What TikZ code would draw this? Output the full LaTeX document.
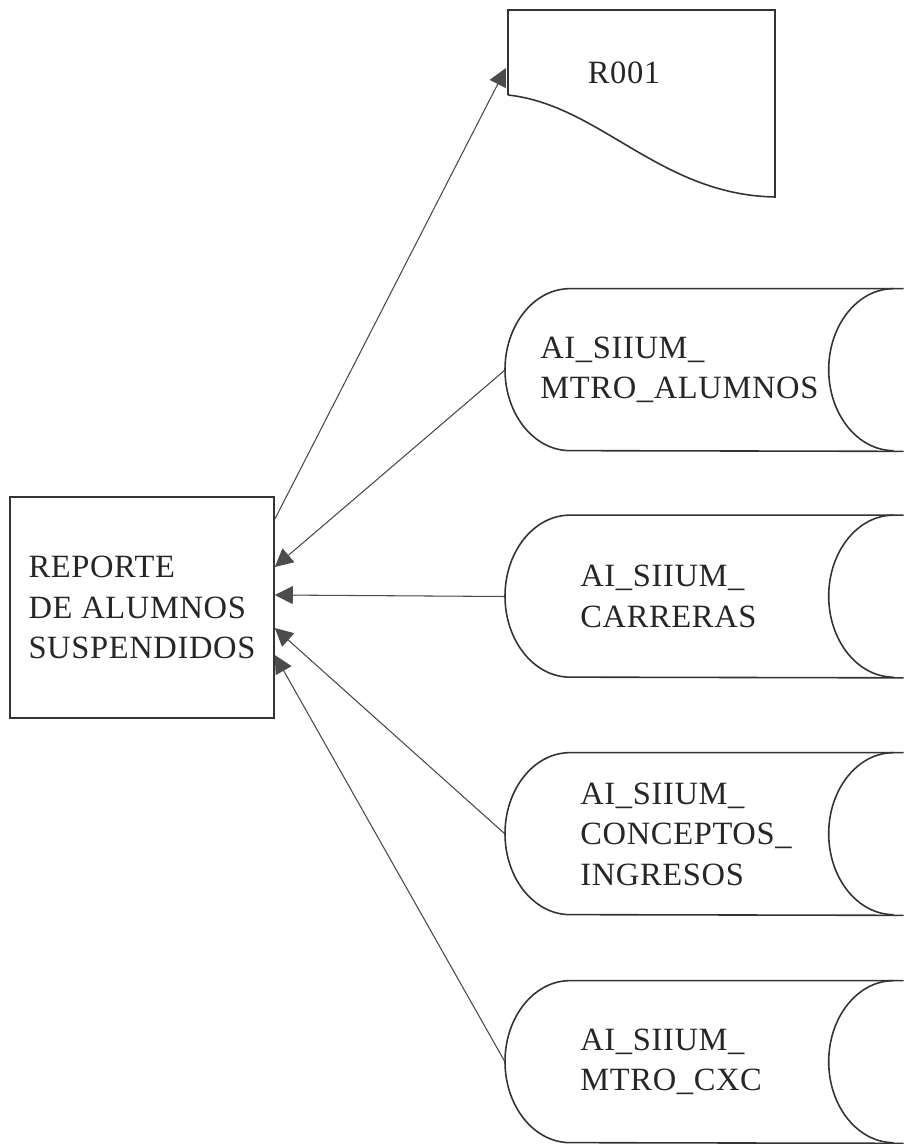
\documentclass[tikz,border=0pt]{standalone}
\usepackage{fontspec}
\setmainfont{Liberation Serif}[LetterSpace=2]
\usepackage{tikz}
\usetikzlibrary{arrows.meta,positioning}

\begin{document}
\begin{tikzpicture}[
  every node/.style={font=\fontsize{18.5}{23}\selectfont, text=black!85},
  outline/.style={draw=black!80, line width=0.9pt},
  flow/.style={draw=black!70, line width=0.6pt, -{Triangle[length=0.36cm,width=0.36cm]}, fill=black!75},
  report/.style={outline, minimum width=5.28cm, minimum height=4.42cm, align=left},
  store/.style={minimum width=7.96cm, minimum height=3.24cm, anchor=west, inner xsep=1.5cm, text width=4.96cm, align=left},
  ]
\useasboundingbox (0,0) rectangle (18.06,22.88);

% Nodes
\node[report] (report) at (2.84,10.73) {REPORTE\\DE ALUMNOS\\SUSPENDIDOS};
\node (r001) at (12.48,21.42) {R001};
\coordinate (r001in) at (10.12,21.52);

\node[store, inner xsep=0.7cm, text width=6.56cm] (alumnos) at (10.1,15.48) {AI\_SIIUM\_\\MTRO\_ALUMNOS};
\node[store] (carreras) at (10.1,10.95) {AI\_SIIUM\_\\CARRERAS};
\node[store] (conceptos) at (10.1,6.2) {AI\_SIIUM\_\\CONCEPTOS\_\\INGRESOS};
\node[store] (cxc) at (10.1,1.64) {AI\_SIIUM\_\\MTRO\_CXC};

% Document
\draw[outline] (10.16,20.98) -- (10.16,22.68) -- (15.5,22.68) -- (15.5,18.94)
  .. controls (13.2,18.98) and (12.0,20.78) .. (10.16,20.98);

% Stores
\foreach \s in {alumnos,carreras,conceptos,cxc} {
  \draw[outline] (\s.north east) -- ([xshift=1.3cm]\s.north west)
    arc[start angle=90, end angle=270, x radius=1.3cm, y radius=1.62cm] -- (\s.south east);
  \draw[outline] ([xshift=-0.2cm]\s.north east)
    arc[start angle=90, end angle=270, x radius=1.3cm, y radius=1.62cm];
}

% Arrows
\draw[flow] ([yshift=-0.46cm]report.north east) -- (r001in);
\draw[flow] (alumnos.west) -- ([yshift=0.81cm]report.east);
\draw[flow] (carreras.west) -- ([yshift=0.25cm]report.east);
\draw[flow] (conceptos.west) -- ([yshift=-0.41cm]report.east);
\draw[flow] (cxc.west) -- ([yshift=-0.95cm]report.east);

\end{tikzpicture}
\end{document}
